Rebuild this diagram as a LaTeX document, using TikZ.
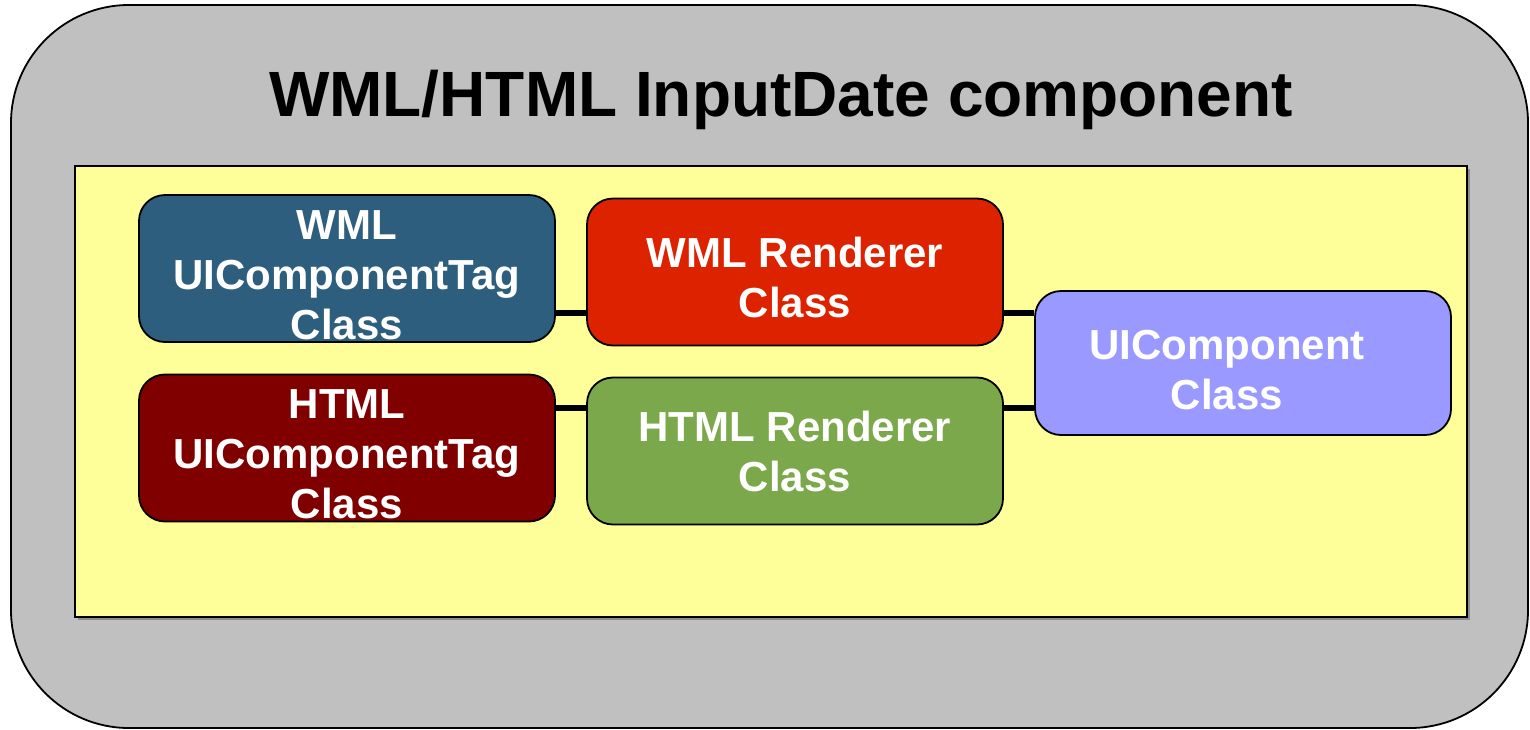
\documentclass[tikz,border=0pt]{standalone}
\usepackage{fontspec}
\setmainfont{Liberation Sans}
\usetikzlibrary{positioning}
\definecolor{shellgray}{HTML}{C0C0C0}
\definecolor{panelyellow}{HTML}{FFFF99}
\definecolor{tagblue}{HTML}{2E5E7E}
\definecolor{tagred}{HTML}{800000}
\definecolor{renred}{HTML}{DD2200}
\definecolor{rengreen}{HTML}{7BA84A}
\definecolor{uiblue}{HTML}{9999FF}
\newcommand{\txtdrop}[1]{\rule{0pt}{#1}}

\begin{document}
\begin{tikzpicture}[
  x=1pt,y=-1pt,
  shell/.style={draw=black,line width=1.8pt,fill=shellgray,rounded corners=118pt},
  panel/.style={draw=black,line width=1.8pt,fill=panelyellow},
  cls/.style={draw=black,line width=1.8pt,rounded corners=26pt,minimum width=416pt,
    minimum height=147pt,text=white,align=center,inner sep=0pt,
    font=\bfseries\fontsize{42}{50}\selectfont},
  link/.style={black,line width=6pt}
]
  \useasboundingbox (0,0) rectangle (1530,729);
  \draw[shell] (11,5) rectangle (1528,728);
  \node[anchor=base,font=\bfseries\fontsize{64}{77}\selectfont] (title) at (781,116)
    {WML/HTML InputDate component};
  \fill[black!45] (78,169) rectangle (1470,620);
  \draw[panel] (75,166) rectangle (1467,617);
  % classes
  \node[cls,fill=tagblue] (wmltag) at (347,268.5) {\txtdrop{42pt}WML\\UIComponentTag\\Class};
  \node[cls,fill=renred] (wmlren) at (795,272) {\txtdrop{41pt}WML Renderer\\Class};
  \node[cls,fill=tagred] (htmltag) at (347,448) {\txtdrop{41pt}HTML\\UIComponentTag\\Class};
  \node[cls,fill=rengreen] (htmlren) at (795,451) {HTML Renderer\\Class};
  \node[cls,fill=uiblue,minimum height=144pt] (ui) at (1243,363)
    {\txtdrop{44pt}UIComponent\hspace*{32pt}\\Class\hspace*{32pt}};
  % links
  \coordinate (wmlrow) at (0,313);
  \coordinate (htmlrow) at (0,408);
  \draw[link] (wmltag.east |- wmlrow) -- (wmlren.west |- wmlrow);
  \draw[link] (htmltag.east |- htmlrow) -- (htmlren.west |- htmlrow);
  \draw[link] (wmlren.east |- wmlrow) -- (ui.west |- wmlrow);
  \draw[link] (htmlren.east |- htmlrow) -- (ui.west |- htmlrow);
\end{tikzpicture}
\end{document}
